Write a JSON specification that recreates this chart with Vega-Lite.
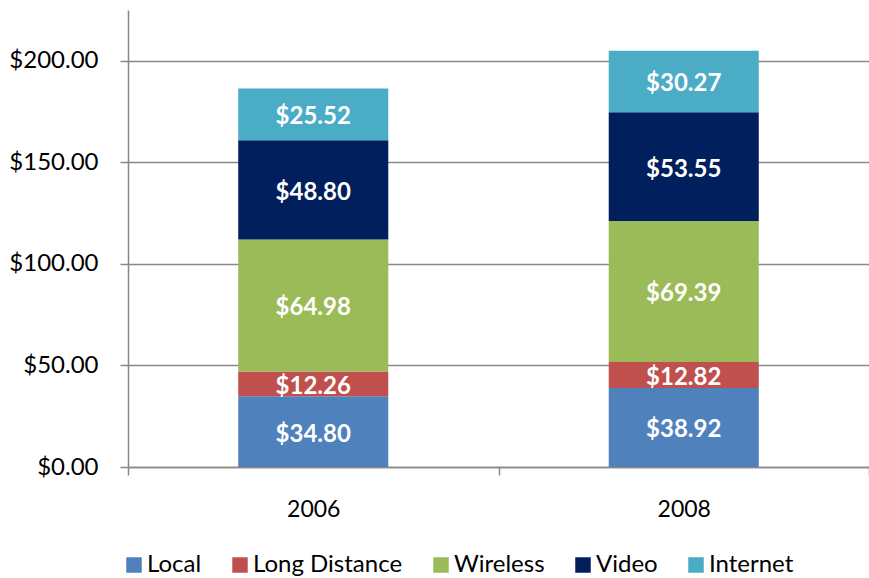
{
  "$schema": "https://vega.github.io/schema/vega-lite/v6.json",
  "autosize": {"type": "none"},
  "width": 741,
  "height": 457,
  "padding": {"left": 128, "top": 10, "right": 0, "bottom": 111},
  "background": "white",
  "config": {
    "view": {"stroke": null},
    "font": "Lato"
  },
  "data": {
    "values": [
      {"year": "2006", "category": "Local", "ord": 1, "value": 34.80},
      {"year": "2006", "category": "Long Distance", "ord": 2, "value": 12.26},
      {"year": "2006", "category": "Wireless", "ord": 3, "value": 64.98},
      {"year": "2006", "category": "Video", "ord": 4, "value": 48.80},
      {"year": "2006", "category": "Internet", "ord": 5, "value": 25.52},
      {"year": "2008", "category": "Local", "ord": 1, "value": 38.92},
      {"year": "2008", "category": "Long Distance", "ord": 2, "value": 12.82},
      {"year": "2008", "category": "Wireless", "ord": 3, "value": 69.39},
      {"year": "2008", "category": "Video", "ord": 4, "value": 53.55},
      {"year": "2008", "category": "Internet", "ord": 5, "value": 30.27}
    ]
  },
  "encoding": {
    "x": {
      "field": "year", "type": "nominal",
      "scale": {"paddingInner": 0, "paddingOuter": 0},
      "axis": {
        "title": null, "labelAngle": 0, "labelFontSize": 23, "labelColor": "#000000",
        "labelPadding": 23, "tickBand": "extent", "tickSize": 8, "tickColor": "#888888",
        "tickWidth": 1.5, "domainColor": "#888888", "domainWidth": 1.5
      }
    },
    "y": {
      "field": "value", "type": "quantitative", "stack": "zero",
      "scale": {"domain": [0, 225], "nice": false, "zero": true},
      "axis": {
        "title": null, "values": [0, 50, 100, 150, 200], "format": "$,.2f",
        "labelFontSize": 24, "labelColor": "#000000", "labelPadding": 22,
        "tickSize": 8, "tickColor": "#888888", "tickWidth": 1.5,
        "gridColor": "#888888", "gridWidth": 1.5, "gridOpacity": 1,
        "domainColor": "#888888", "domainWidth": 1.5
      }
    },
    "order": {"field": "ord", "type": "quantitative"}
  },
  "layer": [
    {
      "mark": {"type": "bar", "width": {"band": 0.405}},
      "encoding": {
        "color": {
          "field": "category", "type": "nominal",
          "scale": {
            "domain": ["Local", "Long Distance", "Wireless", "Video", "Internet"],
            "range": ["#4F81BD", "#C0504D", "#9BBB59", "#001F5C", "#4BACC6"]
          },
          "legend": {
            "title": null, "orient": "none", "direction": "horizontal",
            "legendX": -6, "legendY": 543, "symbolType": "square", "symbolSize": 240,
            "symbolStrokeWidth": 0, "labelFontSize": 24, "labelColor": "#000000",
            "columnPadding": 26, "labelOffset": 1, "symbolOpacity": 1
          }
        }
      }
    },
    {
      "mark": {"type": "text", "color": "white", "fontWeight": "bold", "fontSize": 24, "dy": 3},
      "encoding": {
        "y": {"field": "value", "type": "quantitative", "stack": "zero", "bandPosition": 0.5},
        "text": {"field": "value", "type": "quantitative", "format": "$,.2f"}
      }
    }
  ]
}
